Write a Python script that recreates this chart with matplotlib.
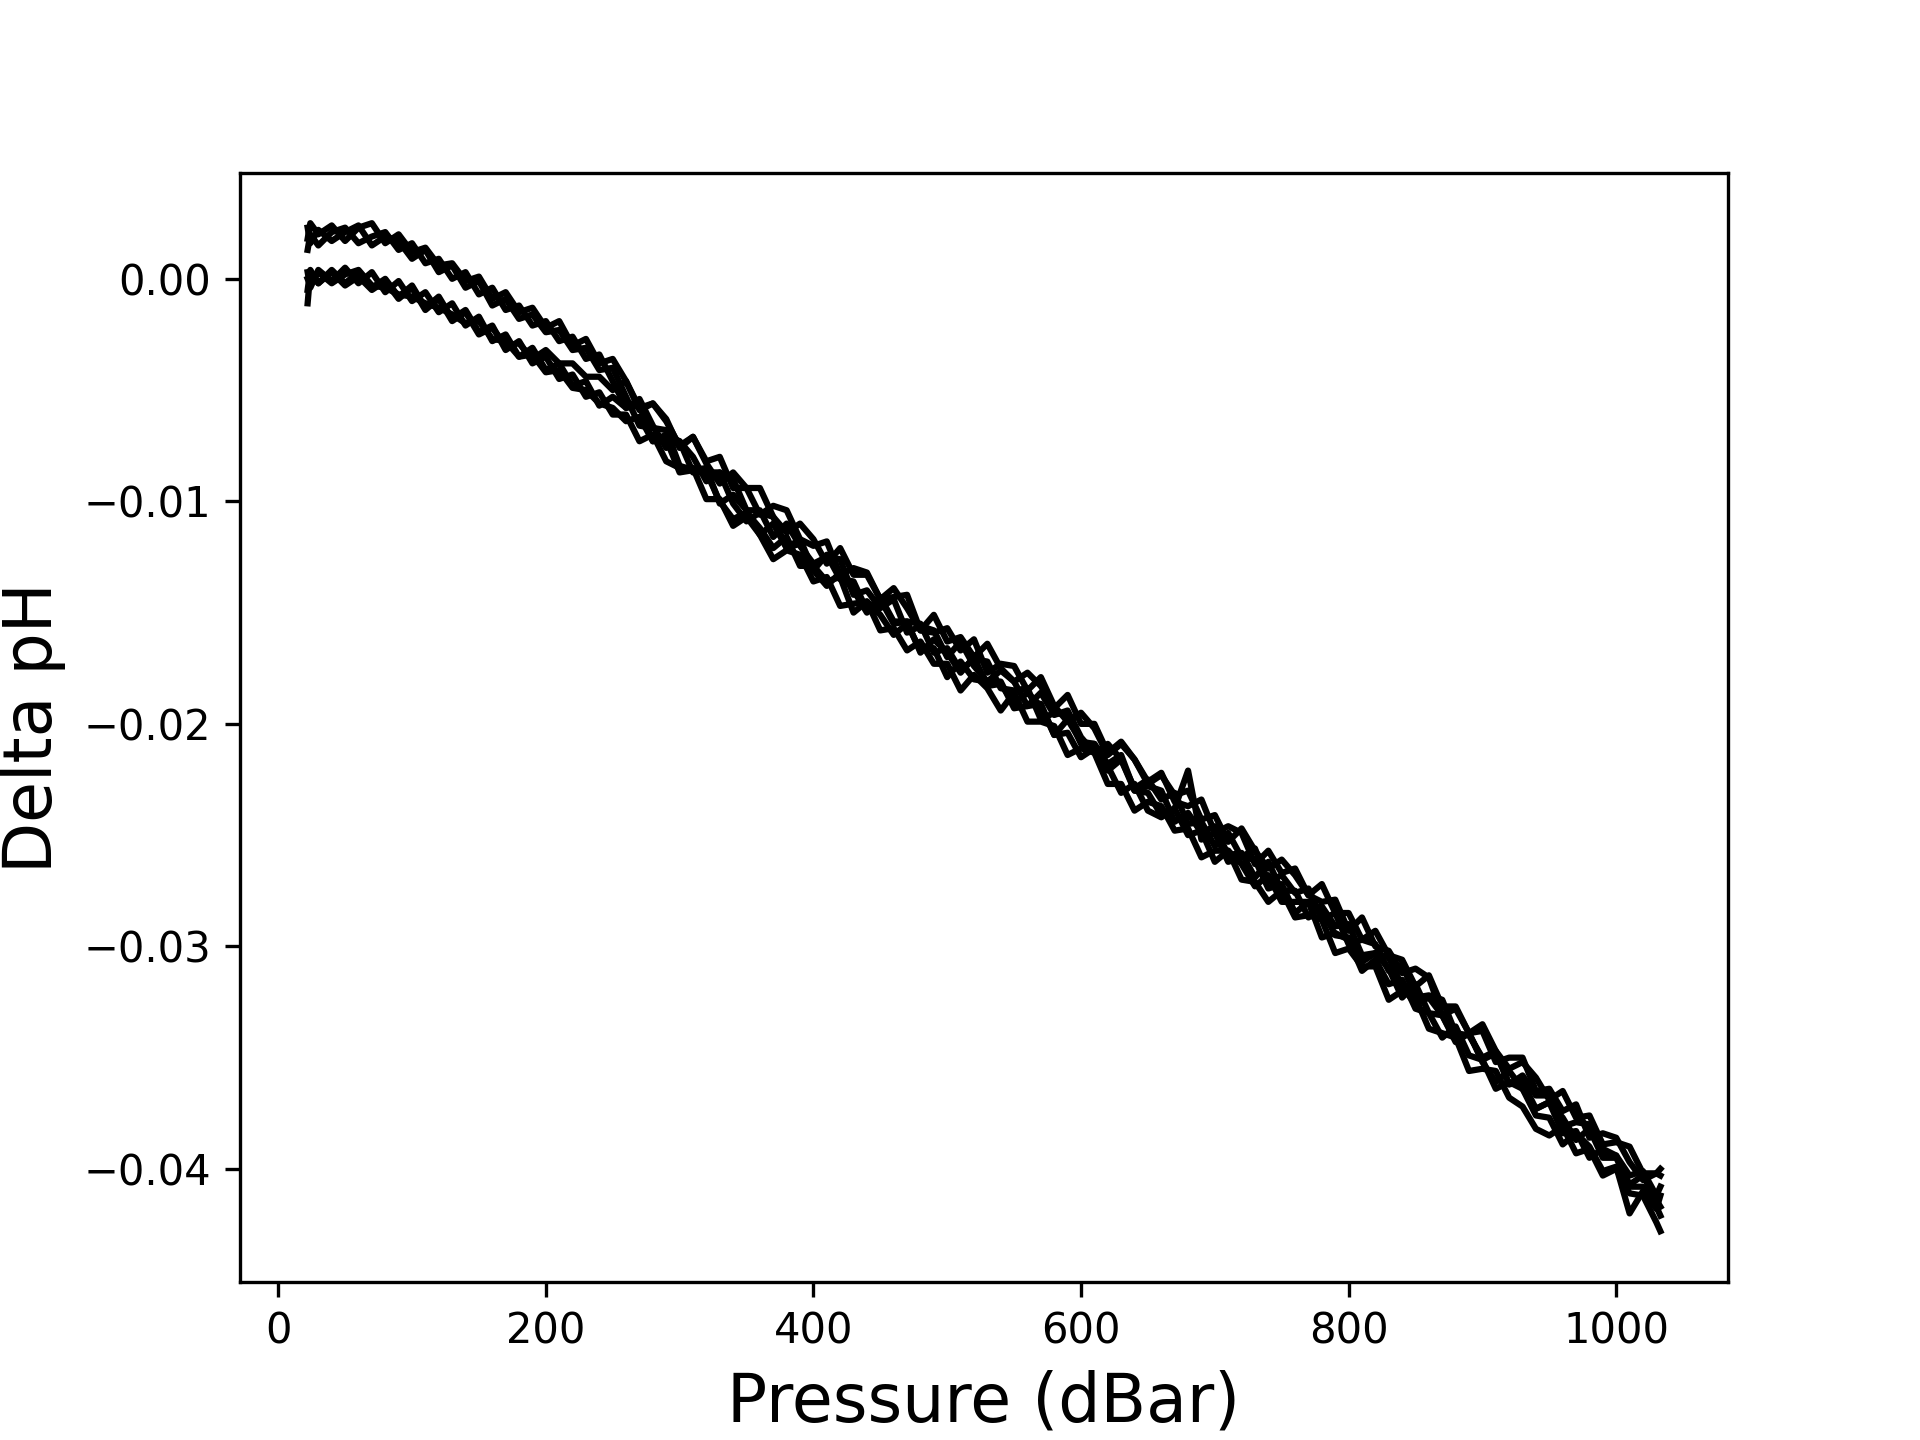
"""
Delta pH en fonction de la pression, plusieurs profils superposés
"""

import matplotlib

matplotlib.use("Agg")
import numpy as np
import matplotlib.pyplot as plt

# Pression (dBar) commune à tous les profils
pressure = [
    22, 24, 30, 40, 50, 60, 70, 80, 90, 100,
    110, 120, 130, 140, 150, 160, 170, 180, 190, 200,
    210, 220, 230, 240, 250, 260, 270, 280, 290, 300,
    310, 320, 330, 340, 350, 360, 370, 380, 390, 400,
    410, 420, 430, 440, 450, 460, 470, 480, 490, 500,
    510, 520, 530, 540, 550, 560, 570, 580, 590, 600,
    610, 620, 630, 640, 650, 660, 670, 680, 690, 700,
    710, 720, 730, 740, 750, 760, 770, 780, 790, 800,
    810, 820, 830, 840, 850, 860, 870, 880, 890, 900,
    910, 920, 930, 940, 950, 960, 970, 980, 990, 1000,
    1010, 1020, 1030, 1033,
]

# Delta pH, en unités de 1e-4 pH
DPH_UNIT = 1e-4

profile_a = [
    18, 25, 20, 24, 17, 23, 25, 16, 20, 12,
    14, 6, 7, -1, 1, -9, -6, -15, -13, -22,
    -19, -30, -27, -38, -36, -46, -59, -56, -64, -75,
    -71, -83, -92, -87, -94, -106, -102, -104, -117, -120,
    -118, -133, -130, -132, -144, -143, -142, -158, -159, -157,
    -167, -162, -177, -173, -174, -185, -179, -192, -199, -195,
    -202, -214, -209, -216, -226, -222, -235, -237, -234, -249,
    -246, -249, -263, -257, -267, -265, -277, -280, -279, -293,
    -287, -300, -302, -312, -310, -314, -331, -328, -339, -338,
    -352, -350, -350, -365, -364, -374, -371, -386, -384, -386,
    -397, -405, -402, -400,
]

profile_b = [
    13, 20, 15, 21, 23, 16, 19, 21, 13, 16,
    7, 9, 0, 3, -7, -4, -14, -12, -21, -19,
    -28, -26, -36, -34, -46, -58, -54, -66, -76, -73,
    -80, -91, -87, -90, -104, -104, -116, -110, -120, -128,
    -125, -126, -142, -140, -148, -144, -159, -156, -158, -170,
    -163, -174, -181, -176, -181, -192, -186, -196, -194, -206,
    -213, -209, -216, -229, -225, -234, -231, -245, -244, -255,
    -249, -260, -256, -271, -268, -276, -274, -288, -285, -299,
    -297, -299, -311, -308, -323, -322, -324, -339, -340, -350,
    -347, -362, -358, -367, -367, -381, -379, -380, -394, -394,
    -403, -401, -412, -408,
]

profile_c = [
    23, 16, 22, 17, 21, 24, 15, 19, 17, 9,
    13, 3, 6, -4, -1, -12, -9, -18, -16, -24,
    -23, -32, -31, -41, -40, -53, -66, -67, -68, -84,
    -86, -85, -101, -97, -104, -115, -110, -121, -117, -131,
    -138, -132, -140, -150, -144, -155, -154, -168, -162, -168,
    -177, -170, -183, -182, -191, -186, -192, -205, -198, -208,
    -209, -221, -216, -230, -231, -241, -238, -221, -252, -249,
    -262, -260, -261, -274, -272, -285, -280, -283, -295, -296,
    -307, -303, -310, -323, -317, -330, -331, -343, -339, -352,
    -361, -356, -364, -373, -370, -384, -383, -395, -391, -394,
    -408, -408, -417, -421,
]

profile_d = [
    -11, 3, -2, 4, -2, 3, -4, 0, -8, -3,
    -13, -8, -18, -14, -24, -21, -32, -28, -38, -35,
    -45, -43, -53, -51, -61, -61, -73, -70, -82, -85,
    -85, -99, -99, -111, -107, -115, -126, -122, -124, -136,
    -134, -147, -146, -145, -158, -157, -167, -163, -173, -173,
    -185, -178, -184, -194, -186, -199, -199, -201, -214, -211,
    -213, -227, -227, -239, -235, -237, -248, -247, -260, -257,
    -257, -270, -271, -280, -275, -287, -286, -288, -303, -301,
    -309, -309, -324, -320, -323, -337, -339, -341, -356, -355,
    -356, -368, -372, -382, -385, -381, -393, -391, -403, -400,
    -411, -412, -424, -428,
]

profile_e = [
    3, -4, 4, -1, 5, -2, 3, -6, -1, -10,
    -6, -15, -11, -21, -17, -28, -25, -35, -31, -41,
    -38, -48, -46, -57, -53, -58, -57, -73, -70, -73,
    -87, -87, -87, -101, -109, -105, -107, -121, -119, -131,
    -124, -135, -136, -149, -143, -154, -154, -155, -168, -166,
    -176, -171, -172, -184, -185, -184, -198, -195, -196, -209,
    -209, -218, -214, -230, -228, -230, -244, -240, -249, -246,
    -259, -258, -269, -262, -275, -275, -287, -282, -291, -290,
    -304, -303, -305, -318, -326, -323, -331, -342, -339, -351,
    -348, -362, -361, -373, -370, -377, -387, -382, -395, -395,
    -407, -403, -414, -417,
]

profile_f = [
    -5, 4, -2, 3, -3, 1, -5, -1, -9, -4,
    -14, -9, -19, -15, -25, -22, -30, -29, -36, -32,
    -38, -38, -44, -44, -50, -46, -58, -56, -63, -76,
    -71, -82, -80, -94, -94, -94, -107, -114, -110, -117,
    -128, -121, -133, -133, -144, -139, -148, -158, -151, -163,
    -161, -170, -164, -175, -181, -177, -183, -193, -187, -200,
    -200, -213, -208, -216, -227, -223, -232, -230, -243, -241,
    -253, -247, -257, -265, -261, -268, -277, -272, -285, -285,
    -297, -293, -304, -306, -318, -313, -327, -327, -339, -335,
    -347, -355, -352, -359, -369, -365, -377, -376, -389, -388,
    -390, -402, -402, -403,
]

profile_g = [
    0, -3, 3, -2, 2, 4, -3, -4, -7, -8,
    -11, -13, -16, -20, -19, -27, -28, -35, -34, -42,
    -41, -49, -50, -56, -58, -64, -62, -73, -72, -87,
    -86, -87, -100, -108, -105, -112, -121, -116, -129, -129,
    -136, -134, -150, -145, -151, -160, -155, -167, -166, -179,
    -172, -180, -181, -181, -193, -192, -191, -205, -204, -215,
    -211, -219, -231, -227, -239, -242, -238, -250, -248, -262,
    -257, -263, -273, -268, -280, -280, -280, -296, -294, -297,
    -311, -306, -317, -315, -328, -330, -341, -336, -349, -351,
    -364, -361, -364, -376, -377, -389, -384, -390, -401, -399,
    -420, -410, -418, -412,
]

profiles = [profile_a, profile_b, profile_c, profile_d, profile_e, profile_f, profile_g]


def plot_profiles():
    fig, ax = plt.subplots(figsize=(6.4, 4.8), dpi=300)

    for prof in profiles:
        ax.plot(pressure, np.array(prof) * DPH_UNIT, color="k", linewidth=1.5)

    ax.set_xlabel("Pressure (dBar)", fontsize=16)
    ax.set_ylabel("Delta pH", fontsize=16)
    ax.set_yticks([0.0, -0.01, -0.02, -0.03, -0.04])

    fig.savefig("out.png", dpi=300)


if __name__ == "__main__":
    plot_profiles()
